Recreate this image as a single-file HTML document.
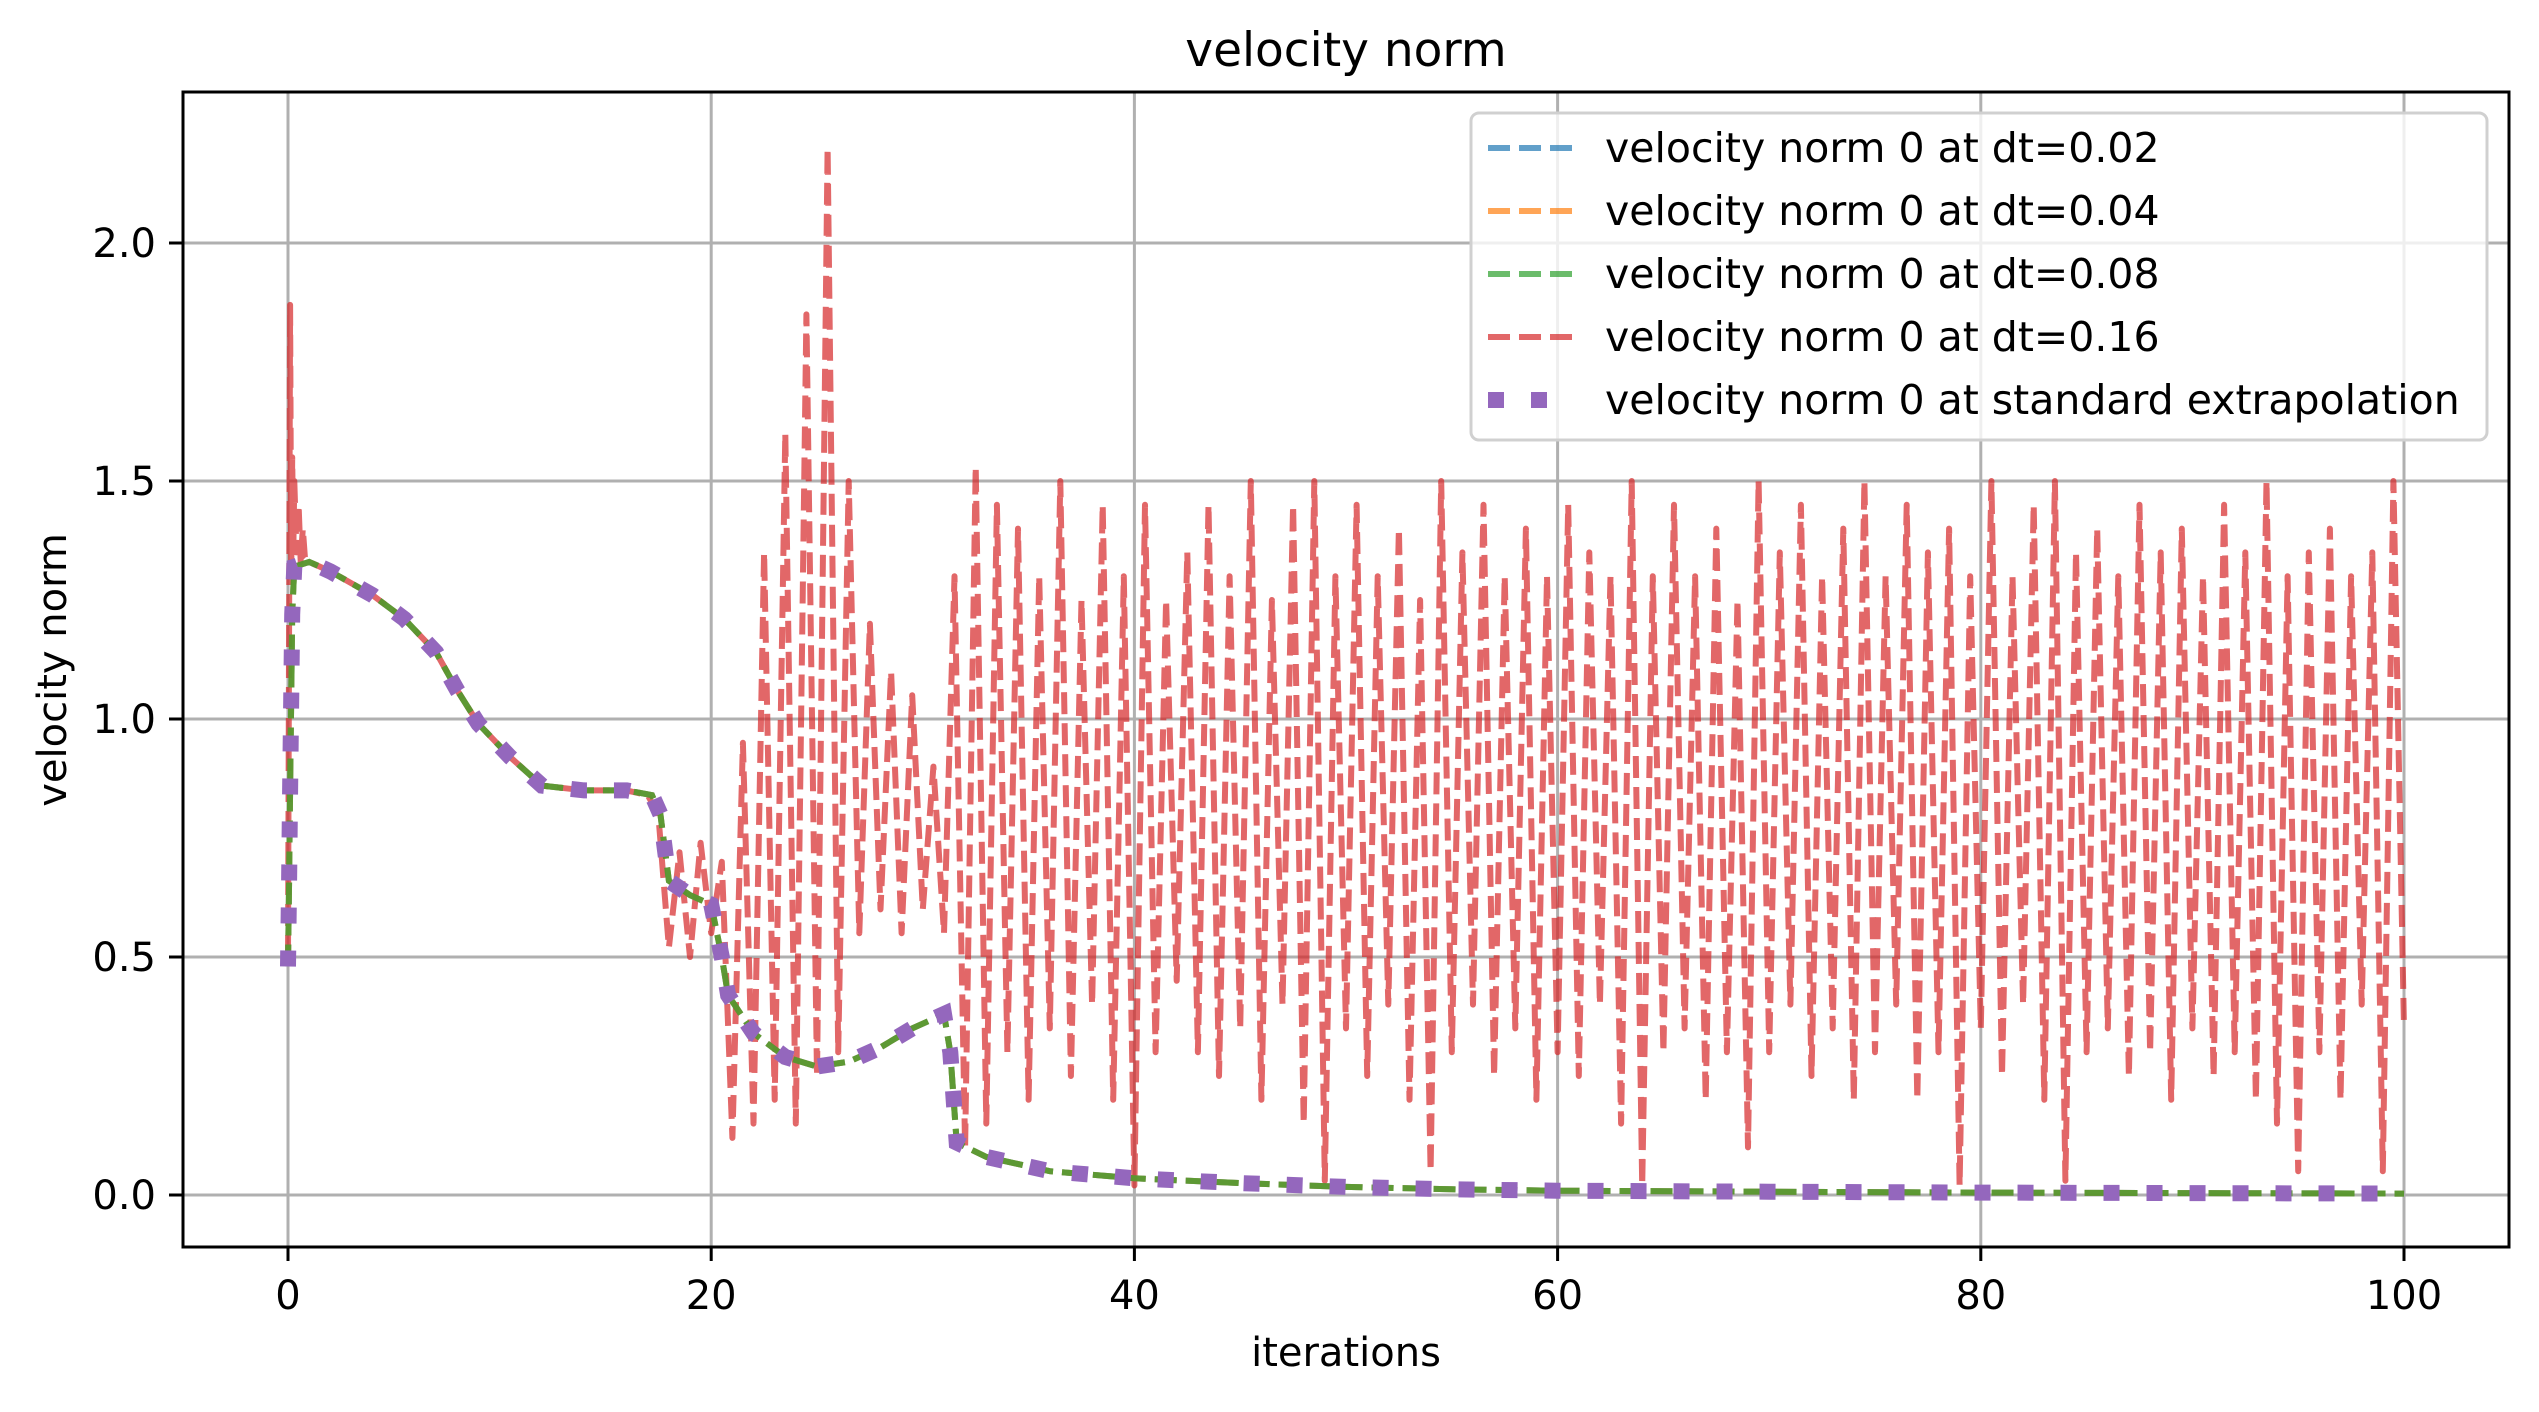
<!DOCTYPE html>
<html><head><meta charset="utf-8"><style>
html,body{margin:0;padding:0;background:#fff}
svg text{font-family:"DejaVu Sans","Liberation Sans",sans-serif;fill:#000}
</style></head><body>
<svg id="chart" width="2539" height="1407" viewBox="0 0 2539 1407" xmlns="http://www.w3.org/2000/svg">
<rect width="2539" height="1407" fill="#fff"/>
<text x="1346" y="66" font-size="47" text-anchor="middle">velocity norm</text>
<g id="grid"></g>
<g id="series"></g>
<rect x="183" y="92" width="2326" height="1155" fill="none" stroke="#000" stroke-width="3"/>
<g id="ticks"></g>
<text x="1346" y="1366" font-size="40" text-anchor="middle">iterations</text>
<text x="66" y="670" font-size="40" text-anchor="middle" transform="rotate(-90 66 670)">velocity norm</text>
<g id="legend">
<rect x="1471" y="113" width="1016" height="327" rx="8" fill="#fff" fill-opacity="0.8" stroke="#d0d0d0" stroke-width="3"/>
</g>
</svg>
<script>
const xTicks=[0,20,40,60,80,100];
const yTicks=[0.0,0.5,1.0,1.5,2.0];
const yTickLabels=["0.0","0.5","1.0","1.5","2.0"];
const smoothX=[0,0.05,0.1,0.15,0.2,0.3,1,2,4,5.5,7,8,9,10.5,12,14,16,17.2,17.6,18,19,20,20.5,20.8,22,23.5,25,26.5,28,29.5,31,31.3,31.6,33,36,40,45,50,55,60,70,80,90,100];
const smoothY=[0.48,0.66,0.85,1.04,1.22,1.32,1.33,1.31,1.26,1.21,1.14,1.06,0.99,0.92,0.86,0.85,0.85,0.84,0.80,0.66,0.63,0.61,0.50,0.42,0.34,0.29,0.27,0.28,0.31,0.35,0.38,0.30,0.11,0.08,0.05,0.035,0.025,0.017,0.012,0.009,0.007,0.005,0.004,0.003];
const redEarlyX=[0,0.05,0.1,0.15,0.2,0.25,0.3,0.4,0.5,0.6,0.7,0.8,1.0,2,4,5.5,7,8,9,10.5,12,14,16,17];
const redEarlyY=[0.5,1.2,1.87,1.3,1.55,1.35,1.5,1.35,1.45,1.33,1.4,1.34,1.33,1.31,1.26,1.21,1.14,1.06,0.99,0.92,0.86,0.85,0.85,0.84];
const redStart=17.5, redStep=0.5;
const redY=[0.8,0.52,0.72,0.5,0.74,0.55,0.7,
0.12,0.95,0.15,1.35,0.2,1.6,0.15,1.85,0.25,2.2,0.3,1.5,0.55,1.2,0.6,1.1,0.55,1.05,0.6,0.9,0.55,
1.3,0.1,1.53,0.15,1.45,
0.3,1.4,0.2,1.3,0.35,1.5,0.25,1.25,0.4,1.45,0.2,1.3,0.02,1.45,0.3,1.25,0.45,1.35,0.3,1.45,0.25,1.3,0.35,1.5,0.2,1.25,0.4,1.45,0.15,1.5,0.03,1.3,
0.35,1.45,0.25,1.3,0.4,1.4,0.2,1.25,0.05,1.5,0.3,1.35,0.4,1.45,0.25,1.3,0.35,1.4,0.2,1.3,0.3,1.45,0.25,1.35,0.4,1.3,0.15,1.5,0.02,1.3,0.3,1.45,0.35,1.3,0.2,1.4,0.3,1.25,0.1,1.5,
0.3,1.35,0.4,1.45,0.25,1.3,0.35,1.4,0.2,1.5,0.3,1.3,0.4,1.45,0.2,1.35,0.3,1.4,0.02,1.3,0.35,1.5,0.25,1.3,0.4,1.45,0.2,1.5,0.03,1.35,0.3,1.4,0.35,1.3,0.25,1.45,0.3,1.35,0.2,1.4,
0.35,1.3,0.25,1.45,0.3,1.35,0.2,1.5,0.15,1.3,0.05,1.35,0.3,1.4,0.2,1.3,0.4,1.35,0.05,1.5,0.35];
const legendLabels=["velocity norm 0 at dt=0.02","velocity norm 0 at dt=0.04","velocity norm 0 at dt=0.08","velocity norm 0 at dt=0.16","velocity norm 0 at standard extrapolation"];

const X0=288,XS=(2404-288)/100, Y0=1195, YS=(1195-243)/2;
const sx=v=>X0+v*XS, sy=v=>Y0-v*YS;
const NS="http://www.w3.org/2000/svg";
function mk(tag,attrs,parent){const e=document.createElementNS(NS,tag);for(const k in attrs)e.setAttribute(k,attrs[k]);parent.appendChild(e);return e;}
const grid=document.getElementById('grid'),ticks=document.getElementById('ticks'),series=document.getElementById('series'),legend=document.getElementById('legend');
xTicks.forEach(t=>{
 const g=mk('line',{x1:sx(t),x2:sx(t),y1:92,y2:1247,stroke:'#b0b0b0','stroke-width':3},grid);
 
 
 const tk=mk('line',{x1:sx(t),x2:sx(t),y1:1247,y2:1261,stroke:'#000','stroke-width':3},ticks);
 
 
 const tl=mk('text',{x:sx(t),y:1309,'font-size':40,'text-anchor':'middle'},ticks);
 tl.textContent=String(t);
 
 
});
yTicks.forEach((t,i)=>{
 const g=mk('line',{x1:183,x2:2509,y1:sy(t),y2:sy(t),stroke:'#b0b0b0','stroke-width':3},grid);
 
 
 const tk=mk('line',{x1:169,x2:183,y1:sy(t),y2:sy(t),stroke:'#000','stroke-width':3},ticks);
 
 
 const tl=mk('text',{x:156,y:sy(t)+14,'font-size':40,'text-anchor':'end'},ticks);
 tl.textContent=yTickLabels[i];
 
 
});
function pathFrom(xs,ys){return xs.map((x,i)=>(i?'L':'M')+sx(x).toFixed(1)+' '+sy(ys[i]).toFixed(1)).join(' ');}
const rx=redEarlyX.slice(), ry=redEarlyY.slice();
redY.forEach((v,i)=>{rx.push(redStart+i*redStep);ry.push(v);});
const red=mk('path',{d:pathFrom(rx,ry),fill:'none',stroke:'#d62728','stroke-opacity':0.7,'stroke-width':6,'stroke-dasharray':'22 9','stroke-linejoin':'round'},series);


const dashCols=[['#1f77b4','series-dt-0.02'],['#ff7f0e','series-dt-0.04'],['#2ca02c','series-dt-0.08']];
dashCols.forEach(c=>{
 const p=mk('path',{d:pathFrom(smoothX,smoothY),fill:'none',stroke:c[0],'stroke-opacity':0.7,'stroke-width':6,'stroke-dasharray':'22 9'},series);
 
 
});
const pur=mk('path',{d:pathFrom(smoothX,smoothY),fill:'none',stroke:'#9467bd','stroke-width':16,'stroke-dasharray':'16 27'},series);


const legCols=['#1f77b4','#ff7f0e','#2ca02c','#d62728','#9467bd'];
legendLabels.forEach((lab,i)=>{
 const y=148+i*63;
 let h;
 if(i<4){h=mk('line',{x1:1488,x2:1572,y1:y,y2:y,stroke:legCols[i],'stroke-opacity':0.7,'stroke-width':6,'stroke-dasharray':'22 9'},legend);}
 else{h=mk('line',{x1:1488,x2:1551,y1:y,y2:y,stroke:legCols[i],'stroke-width':16,'stroke-dasharray':'16 27'},legend);}
 
 
 const t=mk('text',{x:1605,y:y+14,'font-size':41},legend);
 t.textContent=lab;
 
 
});
</script>
</body></html>
